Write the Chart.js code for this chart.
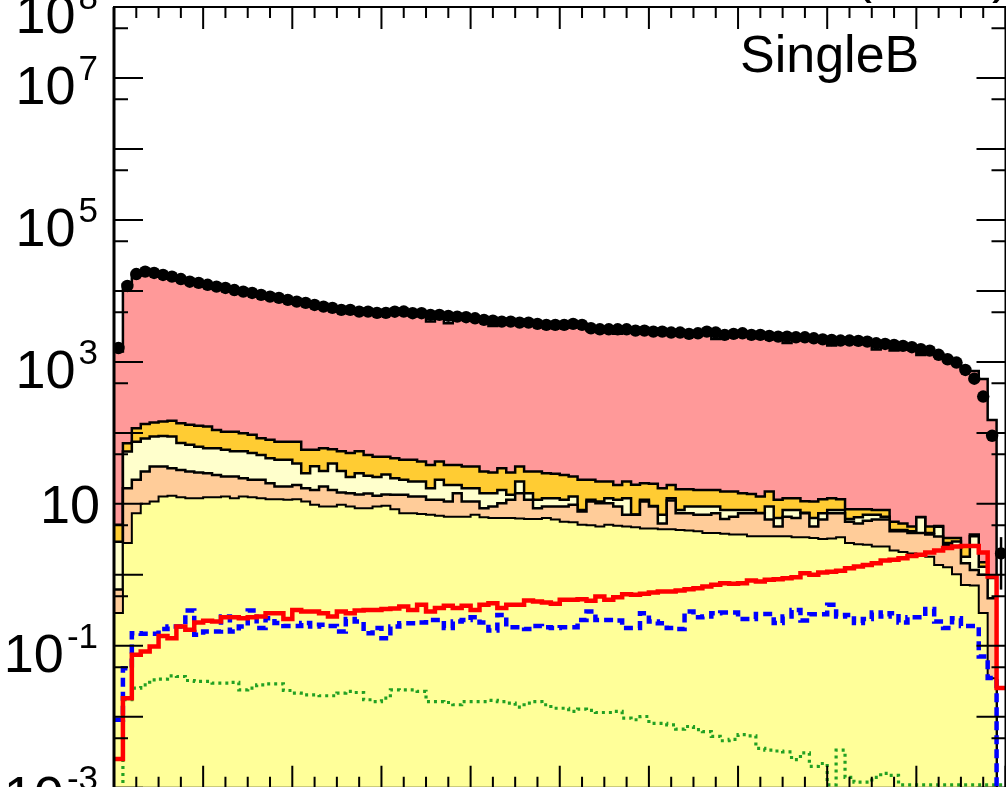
<!DOCTYPE html>
<html><head><meta charset="utf-8">
<script src="https://cdn.jsdelivr.net/npm/chart.js@4.4.1/dist/chart.umd.min.js"></script>
<style>
html,body{margin:0;padding:0;overflow:hidden;background:#fff;width:1006px;height:787px}
canvas{display:block}
</style></head>
<body><canvas id="c" width="1012" height="794"></canvas>
<script>
// ---- axis ranges (bin index 0..100, log y) ----
const xMin = 0, xMax = 100;
const yMin = 1e-3, yMax = 1e8;
const yLabelValues = [1e8, 1e7, 1e5, 1e3, 10, 0.1, 1e-3];
const yLabelSups   = ["8", "7", "5", "3", "", "-1", "-3"];
const panelText = "SingleB";

// ---- stacked backgrounds (per-bin contributions) ----
const yellowBkg = [0.29,2.8,7.4,10,10.8,12.7,13,12.4,12,12, 12.4,12.4,12.7,12,12.7,12.4,12,11.6,11.6,11.4,
 11.6,10.8,9.7,9.2,9.2,9.7,9.2,8.7,8.7,9.2, 9.4,8.4,7.4,7.4,7.2,7.0,6.8,6.6,6.6,6.6,
 7.0,6.5,6.3,6.3,6.3,6.2,6.1,6.1,6.3,6.0, 5.6,5.5,5.1,5.0,4.8,5.1,4.9,4.8,4.7,4.5,
 4.5,4.4,4.4,4.3,4.2,4.1,3.9,3.9,3.8,3.7, 3.7,3.5,3.5,3.5,3.5,3.5,3.4,3.4,3.3,3.2,
 3.25,3.4,2.8,2.7,2.65,2.5,2.5,2.2,2.1,2.0, 1.9,1.8,1.38,1.28,1.02,0.72,0.71,0.29,0.035,0];
const peachBkg = [0.33,13.8,14.4,18.5,22.8,20.9,18.8,17.6,16.5,15.6, 14.6,13.2,11.6,12.3,10.3,9.4,9.8,7.9,5.9,6.1,
 6.9,5.8,6.0,8.3,6.5,4.8,4.9,4.8,5.3,3.8, 4.1,5.0,6.0,5.3,5.5,4.4,4.6,4.2,7.5,4.2,
 3.8,2.2,2.9,3.9,5.1,7.9,5.3,2.6,2.9,3.2, 3.6,4.2,2.7,5.8,5.4,5.1,4.3,2.2,2.3,6.3,
 4.7,0.9,6.8,3.1,3.2,2.9,3.1,3.5,2.3,2.9, 3.7,3.9,3.9,2.5,1.3,3.1,2.9,4.0,1.5,2.8,
 4.15,4.0,2.8,2.6,3.15,3.5,3.5,1.9,2.0,1.9, 2.0,1.9,2.1,1.37,1.48,0.74,0.46,0.71,0.435,0];
const creamBkg = [2.3,38,53,55,55,57,57,42,39.5,36.4, 34,35.4,33.7,30.7,32,30.2,27.2,24.5,24.5,24.5,
 18.5,10.4,18.3,11.5,21.3,14.5,9.9,13.5,11,11, 12.5,9.6,8.4,7.9,7.9,5.2,10.4,7.7,4.4,5.8,
 5.8,5.4,4.9,5.5,2.0,6.5,2.7,2.7,2.8,2.8, 2.2,3.0,0.4,0.6,0.6,1.8,2.2,5.0,0.1,0.6,
 0.1,1.7,0.8,0.8,1.8,2.2,2.2,1.8,2.1,1.6, 0.8,0.8,0.05,3.2,1.5,1.6,1.9,0.1,1.5,1.4,
 0.8,0.8,0.5,1.2,1.2,1.0,0.6,0.2,0.2,0.2, 2.6,0.2,1.3,0.15,0.45,0.34,2.33,0.3,0.43,0];
const orangeBkg = [2.16,17,41,50,51,54,60,65,62,62, 62,49,46,49,44,42,35,36,33,33,
 38,31,24,32,22,26,28,28,24,22, 20,21,19.9,21.1,18.9,18.8,17.7,16.9,16.9,17,
 17,14.4,13.5,16.1,14.2,13,14.4,17.1,15,14.5, 14.2,11.6,13.6,10.4,9.8,8.6,7.1,8.6,11.5,8.1,
 9.9,9.6,6.5,7.9,6.9,6.5,6.5,6.5,6.7,6.7, 5.9,5.6,5.3,5.7,5.1,3.8,3.8,3.4,4.5,4.2,
 3.8,3.4,2.3,1.9,1.4,1.2,1.6,1.3,1.0,0.7, 0.05,0.9,0.1,0.5,0.35,0.7,0.2,0.2,0.05,0];
const pinkBkg = [1395,12430,16380,17370,16860,15860,14850,13860,12870,12170, 11480,10790,10300,9700,9200,8810,8220,7820,7430,7030,
 6630,6340,5940,5640,5340,5100,5000,4800,4750,4600, 4550,4660,4760,4510,4510,3670,4260,3470,4070,3970,
 3870,3670,3170,3470,3420,3370,3320,3220,3120,3070, 3120,3180,3080,2780,2680,2680,2480,2680,2580,2580,
 2480,2480,2430,2430,2330,2380,2480,2080,2290,2340, 2390,2240,2240,2190,2140,1840,2090,2090,2040,1940,
 1690,1890,1890,1840,1790,1490,1690,1440,1600,1500, 1240,1300,1200,1150,950,800,740,573,151,0];

// ---- data ----
const dataCounts = [1570,11750,17300,18700,17900,16800,15900,14700,13500,12970, 12200,11500,11000,10300,9770,9370,8790,8320,7970,7470,
 7070,6780,6350,6010,5770,5400,5400,5110,5110,4900, 4900,5100,5120,4850,4850,4600,4600,4450,4350,4260,
 4120,3910,3820,3700,3700,3580,3580,3430,3320,3320, 3320,3430,3320,2980,2880,2880,2880,2880,2760,2760,
 2670,2670,2590,2590,2480,2530,2670,2590,2400,2480, 2530,2400,2400,2320,2270,2270,2220,2220,2150,2080,
 2040,2000,2000,1980,1930,1830,1790,1740,1680,1610, 1510,1440,1260,1090,980,771,580,325,91,2.0];
const errBins = [97, 98, 99];
const errLow  = [300, 82, 0.62];
const errHigh = [350, 101, 3.4];

// ---- signal overlays ----
const redSig = [0.00254,0.0183,0.0748,0.0833,0.098,0.138,0.128,0.187,0.168,0.213, 0.225,0.220,0.253,0.253,0.245,0.253,0.259,0.288,0.288,0.238,
 0.321,0.305,0.305,0.288,0.259,0.305,0.288,0.315,0.321,0.321, 0.329,0.336,0.358,0.321,0.378,0.305,0.340,0.366,0.340,0.366,
 0.321,0.378,0.399,0.340,0.378,0.378,0.435,0.421,0.408,0.391, 0.445,0.445,0.454,0.431,0.496,0.445,0.484,0.535,0.523,0.540,
 0.563,0.582,0.582,0.601,0.628,0.649,0.685,0.723,0.764,0.748, 0.764,0.834,0.806,0.851,0.869,0.898,0.927,1.056,1.0,1.08,
 1.11,1.14,1.24,1.31,1.38,1.46,1.59,1.63,1.72,1.85, 1.92,2.07,2.20,2.38,2.51,2.56,2.56,2.07,0.948,0.0254];
const blueSig = [0.0091,0.0485,0.151,0.148,0.148,0.172,0.187,0.187,0.315,0.143, 0.159,0.159,0.259,0.159,0.187,0.315,0.178,0.245,0.209,0.191,
 0.191,0.209,0.187,0.198,0.191,0.159,0.238,0.220,0.151,0.178, 0.128,0.187,0.208,0.208,0.213,0.232,0.232,0.178,0.220,0.232,
 0.253,0.213,0.164,0.273,0.183,0.183,0.172,0.191,0.183,0.178, 0.183,0.183,0.232,0.305,0.232,0.232,0.227,0.178,0.178,0.288,
 0.220,0.208,0.178,0.172,0.305,0.253,0.259,0.288,0.295,0.295, 0.238,0.238,0.282,0.282,0.209,0.259,0.321,0.228,0.279,0.279,
 0.378,0.259,0.273,0.209,0.238,0.295,0.259,0.288,0.213,0.253, 0.253,0.329,0.220,0.178,0.245,0.191,0.191,0.0708,0.0351,0.0004];
const greenSig = [0.0005,0.0174,0.0254,0.0282,0.0332,0.034,0.0378,0.037,0.0325,0.0315, 0.0315,0.0298,0.0298,0.0305,0.024,0.0254,0.0282,0.0292,0.0292,0.0235,
 0.0216,0.0204,0.0204,0.0198,0.0198,0.0216,0.0228,0.022,0.0174,0.0164, 0.0183,0.024,0.0239,0.024,0.0228,0.0164,0.0164,0.0159,0.0148,0.0164,
 0.0164,0.0164,0.017,0.0164,0.0156,0.0137,0.0156,0.0164,0.0148,0.0132, 0.0132,0.0119,0.0128,0.0123,0.0115,0.0115,0.0119,0.0096,0.0091,0.0101,
 0.0081,0.0081,0.0077,0.0067,0.0073,0.0066,0.0062,0.0053,0.0046,0.0048, 0.0056,0.0054,0.0036,0.0034,0.0033,0.0032,0.0025,0.0031,0.002,0.0022,
 0.0011,0.0034,0.0014,0.0012,0.0012,0.0014,0.0016,0.0015,0.0011,0.0011, 0.0011,0.0011,0.0011,0.0011,0.0011,0.0011,0.0011,0.0011,0.0011,0.0011];

// ---- build stacked tops ----
function addArr(a, b){ return a.map((v,i)=>v + b[i]); }
const topYellow = yellowBkg.slice();
const topPeach  = addArr(topYellow, peachBkg);
const topCream  = addArr(topPeach, creamBkg);
const topOrange = addArr(topCream, orangeBkg);
const topPink   = addArr(topOrange, pinkBkg);

function histPoints(vals){
  const pts = [];
  vals.forEach((v,i)=>{
    const y = v > 0 ? v : 1e-9;
    pts.push({x:i, y:y});
    pts.push({x:i+1, y:y});
  });
  return pts;
}
function layer(vals, color, order, bw){
  return {data: histPoints(vals), borderColor:'#000', borderWidth: bw, backgroundColor: color,
          fill:'start', pointRadius:0, tension:0, borderJoinStyle:'miter', order: order};
}
const FONT = '"Liberation Sans", Arial, Helvetica, sans-serif';

const rootFrame = {
  id: 'rootFrame',
  afterDatasetsDraw(chart){
    const ctx = chart.ctx, ys = chart.scales.y, xs = chart.scales.x;
    ctx.save();
    ctx.strokeStyle = '#000';
    ctx.lineWidth = 2.5;
    errBins.forEach((b,k)=>{
      const x = xs.getPixelForValue(b + 0.5);
      ctx.beginPath();
      ctx.moveTo(x, ys.getPixelForValue(errLow[k]));
      ctx.lineTo(x, ys.getPixelForValue(errHigh[k]));
      ctx.stroke();
    });
    ctx.restore();
  },
  afterDraw(chart){
    const ctx = chart.ctx, a = chart.chartArea, ys = chart.scales.y, xs = chart.scales.x;
    ctx.save();
    ctx.strokeStyle = '#000';
    ctx.lineWidth = 2;
    ctx.strokeRect(a.left, a.top, a.right - a.left, a.bottom - a.top);
    ctx.lineWidth = 3;
    ctx.beginPath(); ctx.moveTo(a.left, a.top); ctx.lineTo(a.left, a.bottom); ctx.stroke();
    ctx.lineWidth = 2;
    // y ticks
    ctx.beginPath();
    for (let e = -3; e <= 8; e++){
      const y = ys.getPixelForValue(Math.pow(10, e));
      ctx.moveTo(a.left, y); ctx.lineTo(a.left + 29, y);
      ctx.moveTo(a.right, y); ctx.lineTo(a.right - 29, y);
      if (e < 8){
        const y5 = ys.getPixelForValue(5 * Math.pow(10, e));
        ctx.moveTo(a.left, y5); ctx.lineTo(a.left + 14, y5);
        ctx.moveTo(a.right, y5); ctx.lineTo(a.right - 14, y5);
      }
    }
    // x ticks
    for (let k = 0; k <= 40; k++){
      const x = xs.getPixelForValue(xMin + k * 2.5);
      const len = (k % 4 === 0) ? 22 : 11;
      ctx.moveTo(x, a.bottom); ctx.lineTo(x, a.bottom - len);
      ctx.moveTo(x, a.top); ctx.lineTo(x, a.top + len);
    }
    ctx.stroke();
    // y labels
    ctx.fillStyle = '#000';
    ctx.textAlign = 'right';
    ctx.textBaseline = 'alphabetic';
    yLabelValues.forEach((v,i)=>{
      const y = ys.getPixelForValue(v);
      const sup = yLabelSups[i];
      if (sup){
        ctx.font = '35px ' + FONT;
        const w = ctx.measureText(sup).width;
        ctx.fillText(sup, 98, y + 2);
        ctx.font = '54px ' + FONT;
        ctx.fillText('10', 98 - w - 3, y + 26);
      } else {
        ctx.font = '54px ' + FONT;
        ctx.fillText('10', 100, y + 19);
      }
    });
    // panel text
    ctx.textAlign = 'left';
    ctx.font = '52px ' + FONT;
    ctx.fillText(panelText, 740, 72);
    ctx.font = '54px ' + FONT;
    ctx.fillText('(', 854, -8);
    ctx.fillText(')', 992, -8);
    ctx.restore();
  }
};

new Chart(document.getElementById('c'), {
  type: 'line',
  data: {
    datasets: [
      {data: dataCounts.map((v,i)=>({x:i+0.5, y:v})), showLine:false, pointRadius:6.2,
       pointBackgroundColor:'#000', pointBorderColor:'#000', pointBorderWidth:0, order:1},
      {data: histPoints(redSig), borderColor:'#ff0000', borderWidth:4.5, fill:false, pointRadius:0,
       borderJoinStyle:'miter', order:2},
      {data: histPoints(blueSig), borderColor:'#0000ff', borderWidth:4.5, borderDash:[9,5], fill:false,
       pointRadius:0, borderJoinStyle:'miter', order:3},
      {data: histPoints(greenSig), borderColor:'#22a022', borderWidth:3.2, borderDash:[3,4], fill:false,
       pointRadius:0, borderJoinStyle:'miter', order:4},
      layer(topYellow, '#ffff99', 6, 2),
      layer(topPeach,  '#ffcc99', 7, 2.5),
      layer(topCream,  '#ffffcc', 8, 2.5),
      layer(topOrange, '#ffcc33', 9, 2.5),
      layer(topPink,   '#ff9999', 10, 2.5)
    ]
  },
  options: {
    responsive:false, animation:false, devicePixelRatio:1, events:[],
    layout:{padding:{left:114, top:7, right:6.5, bottom:6}},
    plugins:{legend:{display:false}, tooltip:{enabled:false}},
    scales:{
      x:{type:'linear', min:xMin, max:xMax, display:false},
      y:{type:'logarithmic', min:yMin, max:yMax, display:false}
    }
  },
  plugins:[rootFrame]
});
</script>
</body></html>
